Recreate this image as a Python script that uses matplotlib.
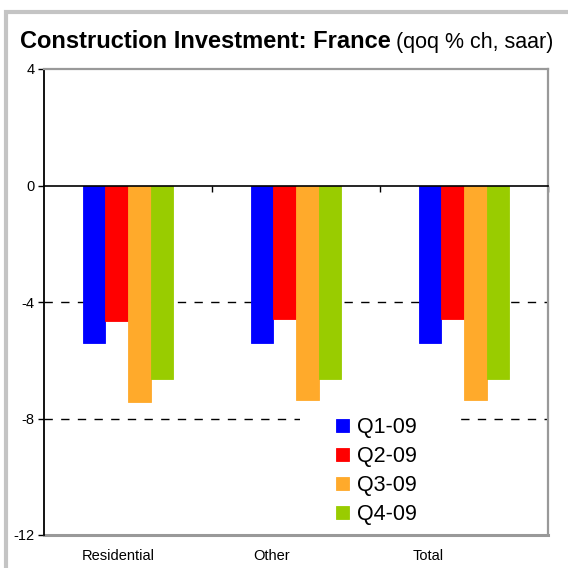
import matplotlib
matplotlib.use("Agg")
import matplotlib.pyplot as plt
import numpy as np
from matplotlib.patches import Rectangle
from matplotlib.transforms import blended_transform_factory

plt.rcParams['font.family'] = ['Liberation Sans', 'DejaVu Sans']
plt.rcParams['axes.unicode_minus'] = False

# Data
categories = ["Residential", "Other", "Total"]
quarters = ["Q1-09", "Q2-09", "Q3-09", "Q4-09"]
q1 = [-5.4, -5.4, -5.4]
q2 = [-4.64, -4.57, -4.57]
q3 = [-7.45, -7.38, -7.38]
q4 = [-6.63, -6.63, -6.63]
colors = ["#0000FF", "#FF0000", "#FFAA2B", "#99CC00"]

fig = plt.figure(figsize=(5.68, 5.68), dpi=100)
W, H = 568, 568

# outer chart frame (clipped at right/bottom like the source)
fig.patches.append(Rectangle((6 / W, -0.1), 2, 1 - 12 / H + 0.1, transform=fig.transFigure,
                             fill=False, edgecolor="#c4c4c4", linewidth=3, zorder=0))

ax = fig.add_axes([44 / W, 1 - 535 / H, 504 / W, 466 / H])

x = np.arange(len(categories))
w = 0.134
for i, (vals, lab) in enumerate(zip([q1, q2, q3, q4], quarters)):
    ax.bar(x + (i - 1.5) * w, vals, width=w, color=colors[i], label=lab,
           edgecolor=colors[i], linewidth=0.6, zorder=3)

ax.set_xlim(-0.5, 2.5)
ax.set_ylim(-12, 4)
ax.set_yticks([4, 0, -4, -8, -12])
ax.tick_params(axis='y', direction='out', length=4, width=1, labelsize=10.5, pad=3)

# dashed gridlines
for yv in [-4, -8]:
    ax.axhline(yv, color="black", linestyle=(0, (6, 6)), linewidth=1, zorder=1)

# spines: left black, others grey frame; bottom spine moved to zero line
ax.spines['left'].set_color("black")
ax.spines['left'].set_linewidth(1.3)
ax.spines['top'].set_color("#999999")
ax.spines['right'].set_color("#999999")
ax.spines['top'].set_linewidth(1.6)
ax.spines['right'].set_linewidth(1.6)
ax.spines['bottom'].set_position(('data', 0))
ax.spines['bottom'].set_color("black")
ax.spines['bottom'].set_linewidth(1.2)
ax.spines['bottom'].set_zorder(4)
ax.plot([0, 1], [0, 0], transform=ax.transAxes, color="#999999", linewidth=2.2, clip_on=False)

ax.set_xticks(np.arange(0, 3.0, 0.5))
ax.set_xticklabels([])
ax.tick_params(axis='x', direction='out', length=4, width=1)

# category labels below the plot
trans = blended_transform_factory(ax.transData, ax.transAxes)
label_x = [-0.06, 0.857, 1.786]
for lx, cat in zip(label_x, categories):
    ax.text(lx, -0.045, cat, transform=trans, ha='center', va='center', fontsize=10.5)

# legend with white background covering the gridline
ax.add_patch(Rectangle((0.508, 0.011), 0.313, 0.253, transform=ax.transAxes,
                       facecolor="white", edgecolor="none", zorder=2))
leg = ax.legend(loc='upper left', bbox_to_anchor=(0.579, 0.253), frameon=False,
                fontsize=15.5, handlelength=0.6, handleheight=0.6, handletextpad=0.4,
                labelspacing=0.37, borderpad=0, borderaxespad=0)
leg.set_zorder(5)

# title: bold part + normal part
t1 = fig.text(20 / W, 1 - 48 / H, "Construction Investment: France", fontsize=17,
              fontweight='bold', ha='left', va='baseline')
fig.canvas.draw()
bb = t1.get_window_extent()
fig.text((bb.x1 + 5) / W, 1 - 48 / H, "(qoq % ch, saar)", fontsize=15.5,
         ha='left', va='baseline')

fig.savefig("out.png", dpi=100)
